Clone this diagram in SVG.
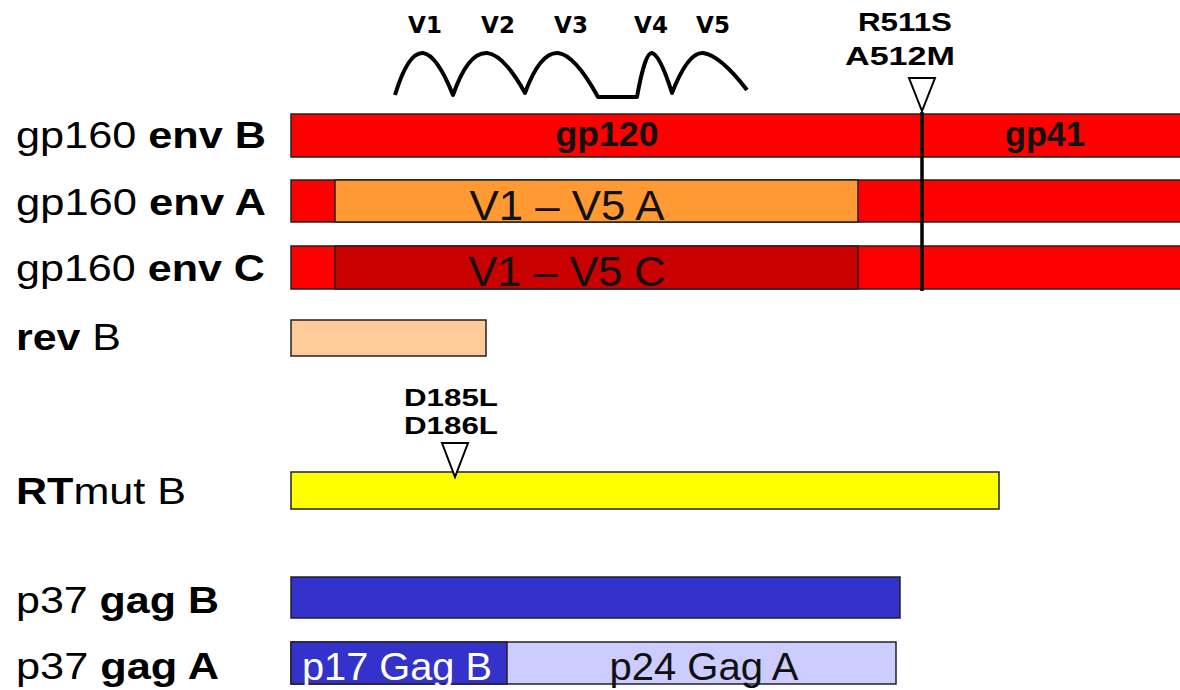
<svg xmlns="http://www.w3.org/2000/svg" width="1180" height="690" viewBox="0 0 1180 690">
<style>
.bar{stroke:#222;stroke-width:1.5}
.lbl{font-family:"Liberation Sans",Arial,sans-serif;font-size:36px;fill:#000}
.b{font-weight:bold}
.in{font-family:"Liberation Sans",Arial,sans-serif;fill:#111}
.mut{font-family:"Liberation Sans",Arial,sans-serif;font-size:26px;font-weight:bold;fill:#000;text-anchor:middle}
.v{font-family:"DejaVu Sans",Verdana,sans-serif;font-size:23px;font-weight:bold;fill:#000;text-anchor:middle}
.tri{fill:#fff;stroke:#000;stroke-width:2}
</style>
<rect width="1180" height="690" fill="#fff"/>
<g id="loops">
<text class="v" x="425" y="33">V1</text>
<text class="v" x="498" y="33">V2</text>
<text class="v" x="571" y="33">V3</text>
<text class="v" x="651" y="33">V4</text>
<text class="v" x="713" y="33">V5</text>
<path d="M395,95 Q408,52 423,53 Q437,55 453,95 Q468,52 487,53 Q504,55 525,93 Q540,52 558,53 Q575,55 598,97 L637,97 Q645,52 652,53 Q660,55 672,93 Q688,52 703,53 Q720,55 747,90" fill="none" stroke="#000" stroke-width="4" stroke-linejoin="round"/>
</g>
<g id="envB">
<text class="lbl" x="16" y="148" textLength="250" lengthAdjust="spacingAndGlyphs">gp160 <tspan class="b">env B</tspan></text>
<rect class="bar" x="291" y="114" width="895" height="43" fill="#FF0000"/>
<text class="in b" x="607" y="146" text-anchor="middle" style="font-size:35px" textLength="103" lengthAdjust="spacingAndGlyphs">gp120</text>
<text class="in b" x="1045" y="146" text-anchor="middle" style="font-size:35px" textLength="80" lengthAdjust="spacingAndGlyphs">gp41</text>
</g>
<g id="envA">
<text class="lbl" x="16" y="215" textLength="250" lengthAdjust="spacingAndGlyphs">gp160 <tspan class="b">env A</tspan></text>
<rect class="bar" x="291" y="180" width="895" height="42" fill="#FF0000"/>
<rect class="bar" x="335" y="180" width="523" height="42" fill="#FF9933"/>
<text class="in" x="567" y="220" text-anchor="middle" style="font-size:42px" textLength="195" lengthAdjust="spacingAndGlyphs">V1 – V5 A</text>
</g>
<g id="envC">
<text class="lbl" x="16" y="281" textLength="249" lengthAdjust="spacingAndGlyphs">gp160 <tspan class="b">env C</tspan></text>
<rect class="bar" x="291" y="246" width="895" height="43" fill="#FF0000"/>
<rect class="bar" x="335" y="246" width="523" height="43" fill="#C80000"/>
<text class="in" x="567" y="286" text-anchor="middle" style="font-size:42px" textLength="197" lengthAdjust="spacingAndGlyphs">V1 – V5 C</text>
</g>
<g id="cleavage">
<line x1="922" y1="112" x2="922" y2="291" stroke="#000" stroke-width="3.5"/>
<polygon class="tri" points="909,78 935,78 922,111"/>
<text class="mut" x="905" y="31" textLength="94" lengthAdjust="spacingAndGlyphs">R511S</text>
<text class="mut" x="900" y="65" textLength="110" lengthAdjust="spacingAndGlyphs">A512M</text>
</g>
<g id="revB">
<text class="lbl" x="16" y="350" textLength="105" lengthAdjust="spacingAndGlyphs"><tspan class="b">rev</tspan> B</text>
<rect class="bar" x="291" y="320" width="195" height="36" fill="#FFCC99"/>
</g>
<g id="RTmutB">
<text class="lbl" x="16" y="504" textLength="170" lengthAdjust="spacingAndGlyphs"><tspan class="b">RT</tspan>mut B</text>
<rect class="bar" x="291" y="472" width="708" height="37" fill="#FFFF00"/>
<polygon class="tri" points="442,443 468,443 455,477"/>
<text class="mut" x="451" y="406" style="font-size:23px" textLength="94" lengthAdjust="spacingAndGlyphs">D185L</text>
<text class="mut" x="451" y="434" style="font-size:23px" textLength="94" lengthAdjust="spacingAndGlyphs">D186L</text>
</g>
<g id="gagB">
<text class="lbl" x="16" y="613" textLength="203" lengthAdjust="spacingAndGlyphs">p37 <tspan class="b">gag B</tspan></text>
<rect class="bar" x="291" y="577" width="609" height="41" fill="#3333CC"/>
</g>
<g id="gagA">
<text class="lbl" x="16" y="679" textLength="203" lengthAdjust="spacingAndGlyphs">p37 <tspan class="b">gag A</tspan></text>
<rect class="bar" x="291" y="642" width="605" height="42" fill="#CCCCFF"/>
<rect class="bar" x="291" y="642" width="216" height="42" fill="#3333CC"/>
<text class="in" x="302" y="680" style="font-size:38px;fill:#fff" textLength="190" lengthAdjust="spacingAndGlyphs">p17 Gag B</text>
<text class="in" x="704" y="680" text-anchor="middle" style="font-size:38px" textLength="189" lengthAdjust="spacingAndGlyphs">p24 Gag A</text>
</g>
</svg>
